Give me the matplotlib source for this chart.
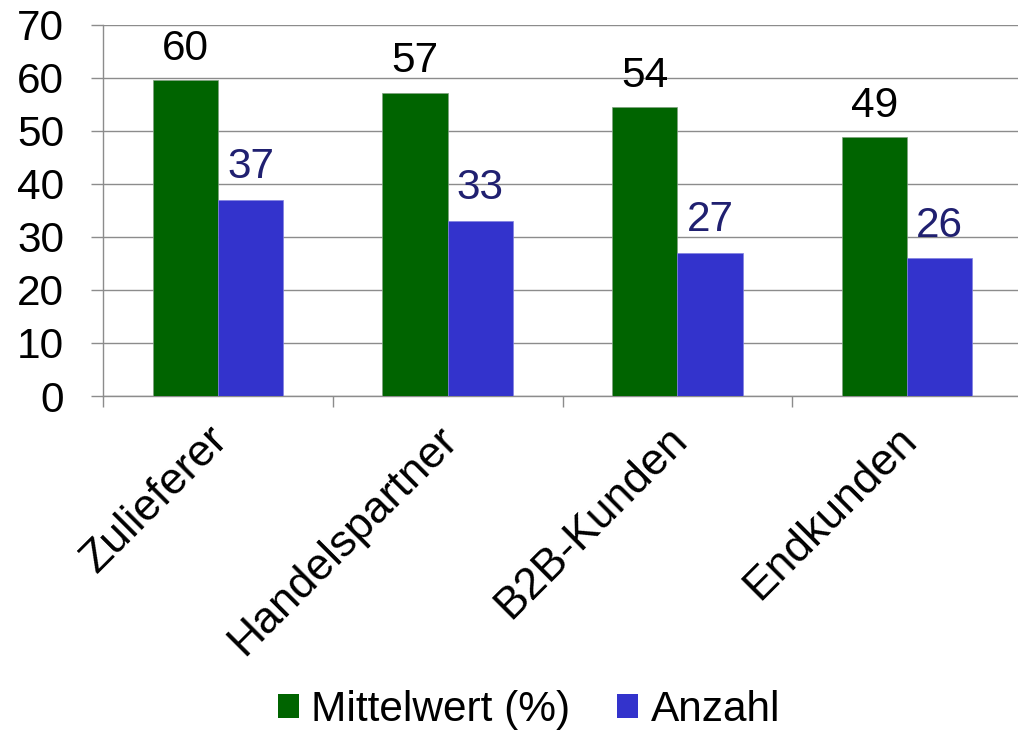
import numpy as np
import matplotlib.pyplot as plt
import matplotlib.transforms as mtransforms
from matplotlib.patches import Patch

plt.rcParams['font.family'] = ['Liberation Sans', 'DejaVu Sans']

categories = ['Zulieferer', 'Handelspartner', 'B2B-Kunden', 'Endkunden']
mittelwert = [59.6, 57.2, 54.5, 48.9]
mittelwert_labels = ['60', '57', '54', '49']
anzahl = [37, 33, 27, 26]
anzahl_labels = ['37', '33', '27', '26']
y_ticks = [0, 10, 20, 30, 40, 50, 60, 70]

green = '#006400'
blue = '#3333cc'
navy = '#202070'
grid_col = '#8c8c8c'
fs = 30.5

fig = plt.figure(figsize=(10.18, 7.31), dpi=100)
ax = fig.add_axes([103 / 1018, 335 / 731, 919 / 1018, 371.3 / 731])

x = np.arange(len(categories))
w = 0.284
b1 = ax.bar(x - w / 2, mittelwert, w, color=green, edgecolor='#7fa07f', linewidth=0.5, zorder=3)
b2 = ax.bar(x + w / 2, anzahl, w, color=blue, edgecolor='#8080e0', linewidth=0.5, zorder=3)

ax.bar_label(b1, labels=mittelwert_labels, padding=8, fontsize=fs, color='black')
ax.bar_label(b2, labels=anzahl_labels, padding=9, fontsize=fs, color=navy)

ax.set_xlim(-0.5, len(categories) - 0.5)
ax.set_ylim(0, 70)
ax.set_yticks(y_ticks)
ax.tick_params(axis='y', direction='out', length=9, width=1, color=grid_col,
               labelsize=fs, pad=19)
ax.yaxis.grid(True, color=grid_col, linewidth=1, zorder=0)

# category boundaries get the ticks, labels sit at the centres
ax.set_xticks(np.arange(-0.5, len(categories), 1), minor=True)
ax.set_xticks(x)
ax.set_xticklabels(categories, rotation=45, ha='right', rotation_mode='anchor',
                   va='center', fontsize=32)
ax.tick_params(axis='x', which='major', length=0, pad=27)
ax.tick_params(axis='x', which='minor', length=8, width=1, color=grid_col)
offset = mtransforms.ScaledTranslation(3 / 100, 0, fig.dpi_scale_trans)
for lbl in ax.get_xticklabels():
    lbl.set_transform(lbl.get_transform() + offset)

for s in ['top', 'right']:
    ax.spines[s].set_visible(False)
for s in ['left', 'bottom']:
    ax.spines[s].set_color(grid_col)
    ax.spines[s].set_linewidth(1)

handles = [Patch(facecolor=green, label='Mittelwert (%)'),
           Patch(facecolor=blue, label='Anzahl')]
fig.legend(handles=handles, loc='center', bbox_to_anchor=(529 / 1018, 1 - 710 / 731),
           ncol=2, frameon=False, fontsize=fs, handlelength=0.5, handleheight=0.5,
           handletextpad=0.3, columnspacing=1.1)

fig.savefig('out.png', dpi=100)
